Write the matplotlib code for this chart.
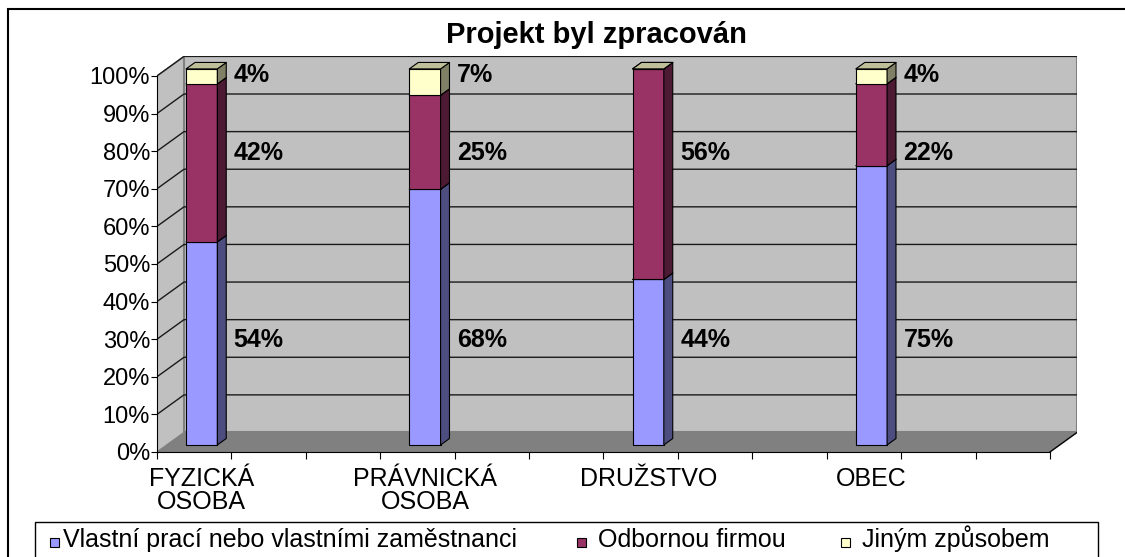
import matplotlib.pyplot as plt
from matplotlib.patches import Polygon, Rectangle
import numpy as np

plt.rcParams['font.family'] = ['Liberation Sans', 'DejaVu Sans']

categories = ['FYZICKÁ\nOSOBA', 'PRÁVNICKÁ\nOSOBA', 'DRUŽSTVO', 'OBEC']
series_names = ['Vlastní prací nebo vlastními zaměstnanci', 'Odbornou firmou', 'Jiným způsobem']
vlastni = [54, 68, 44, 75]
firma = [42, 25, 56, 22]
jiny = [4, 7, 0, 4]
yticks = list(range(0, 101, 10))

colors = ['#9999FF', '#993366', '#FFFFCC']


def shade(c, f):
    r, g, b = [int(c[k:k + 2], 16) for k in (1, 3, 5)]
    return (r * f / 255, g * f / 255, b * f / 255)


values = np.array([vlastni, firma, jiny], dtype=float)
shares = values / values.sum(axis=0) * 100

# fake 3D: depth offsets in data units
DX, DY = 0.363, 5.19
n_slots = 12
zf, zb = 0.36, 0.69
bar_w = 0.42
label_y = [29.8, 79.5, 100.3]


def P(x, y, z):
    return (x + z * DX, y + z * DY)


W, H = 1125, 557
fig = plt.figure(figsize=(W / 100, H / 100), dpi=100)
ax = fig.add_axes([157 / W, 105 / H, 920 / W, 395.6 / H])
ax.set_xlim(0, n_slots + DX)
ax.set_ylim(0, 100 + DY)
ax.patch.set_visible(False)

# walls and floor
ax.add_patch(Polygon([P(0, 0, 0), P(0, 0, 1), P(0, 100, 1), P(0, 100, 0)],
                     fc='#C0C0C0', ec='#808080', lw=1, zorder=0))
ax.add_patch(Polygon([P(0, 0, 1), P(n_slots, 0, 1), P(n_slots, 100, 1), P(0, 100, 1)],
                     fc='#C0C0C0', ec='#808080', lw=1.5, zorder=0))
ax.add_patch(Polygon([P(0, 0, 0), P(n_slots, 0, 0), P(n_slots, 0, 1), P(0, 0, 1)],
                     fc='#808080', ec='none', zorder=1))
for v in yticks[1:]:
    a, b = P(0, v, 0), P(0, v, 1)
    c = P(n_slots, v, 1)
    ax.plot([a[0], b[0], c[0]], [a[1], b[1], c[1]], color='#1a1a1a', lw=1.0, zorder=1.5)
a, b = P(n_slots, 0, 0), P(n_slots, 0, 1)
ax.plot([a[0], b[0]], [a[1], b[1]], color='black', lw=1, zorder=1.5)

# bars
for i in range(len(categories)):
    xc = 3 * i + 0.47
    x0, x1 = xc - bar_w / 2, xc + bar_w / 2
    bottom = 0
    for s in range(len(series_names)):
        top = bottom + shares[s, i]
        kw = dict(ec='black', lw=0.8, zorder=3, joinstyle='round')
        ax.add_patch(Polygon([P(x0, bottom, zf), P(x1, bottom, zf), P(x1, top, zf), P(x0, top, zf)],
                             fc=colors[s], **kw))
        ax.add_patch(Polygon([P(x1, bottom, zf), P(x1, bottom, zb), P(x1, top, zb), P(x1, top, zf)],
                             fc=shade(colors[s], 0.5), **kw))
        ax.add_patch(Polygon([P(x0, top, zf), P(x1, top, zf), P(x1, top, zb), P(x0, top, zb)],
                             fc=shade(colors[s], 0.75), **kw))
        if values[s, i] > 0:
            ax.text(x1 + zb * DX + 0.1, label_y[s], f'{values[s, i]:.0f}%',
                    fontsize=18, fontweight='bold', va='center', ha='left', zorder=4)
        bottom = top

# axes
for sp in ('top', 'right'):
    ax.spines[sp].set_visible(False)
ax.spines['left'].set_bounds(0, 100)
ax.spines['bottom'].set_bounds(0, n_slots)
ax.spines['left'].set_zorder(2)
ax.spines['bottom'].set_zorder(2)
ax.set_yticks(yticks)
ax.set_yticklabels([f'{v}%' for v in yticks], fontsize=17)
ax.tick_params(axis='y', length=4, pad=1)
ax.set_xticks(range(n_slots + 1))
ax.set_xticklabels([''] * (n_slots + 1))
ax.tick_params(axis='x', which='major', length=5)
ax.set_xticks([3 * i + 0.47 + zf * DX for i in range(len(categories))], categories, minor=True)
ax.tick_params(axis='x', which='minor', length=0, pad=11, labelsize=18)
for t in ax.get_xticklabels(minor=True):
    t.set_linespacing(0.95)

fig.text(596 / W, 1 - 43 / H, 'Projekt byl zpracován', ha='center', va='baseline',
         fontsize=21, fontweight='bold')

# outer border and legend box (cut by the image edge)
fig.add_artist(Rectangle((8 / W, -0.1), 1.2, 1 - 9 / H + 0.1, transform=fig.transFigure,
                         fill=False, ec='black', lw=1.5))
fig.add_artist(Rectangle((35 / W, -0.1), (1098 - 35) / W, (H - 522) / H + 0.1,
                         transform=fig.transFigure, fill=False, ec='black', lw=1))
leg_marker_x = [50, 577, 841]
leg_text_x = [63, 598, 862]
for s, name in enumerate(series_names):
    fig.add_artist(Rectangle((leg_marker_x[s] / W, (H - 547) / H), 9 / W, 9 / H,
                             transform=fig.transFigure, fc=colors[s], ec='black', lw=0.8))
    fig.text(leg_text_x[s] / W, (H - 547) / H, name, ha='left', va='baseline', fontsize=18)

fig.savefig('out.png', dpi=100)
